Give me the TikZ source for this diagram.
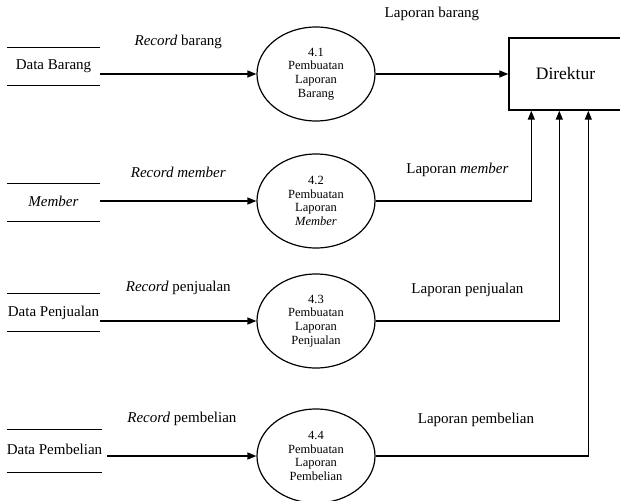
\documentclass[tikz,border=0pt]{standalone}
\usepackage{fontspec}
\setmainfont{Liberation Serif}
\usetikzlibrary{positioning,shapes.geometric,arrows.meta}

\begin{document}
\begin{tikzpicture}[x=1pt,y=-1pt,font=\fontsize{15}{17}\selectfont,
	store/.style={minimum width=93pt,minimum height=37pt,inner sep=0pt,text height=10pt,text depth=3pt},
	proc/.style={draw,ellipse,line width=1.2pt,minimum width=118pt,minimum height=94pt,inner sep=0pt,align=center,font=\fontsize{12.5}{13.7}\selectfont},
	flow/.style={line width=1.3pt,-{Triangle[length=9pt,width=7pt]}}]
\useasboundingbox (0,0) rectangle (620,500);
%data stores
\node[store] (s1) at (53.5,66.5) {Data Barang};
\node[store] (s2) at (53.5,202.5) {\textit{Member}};
\node[store] (s3) at (53.5,312.5) {Data Penjualan};
\node[store,minimum width=95pt,minimum height=42pt] (s4) at (54.5,451) {Data Pembelian};
\foreach \s in {s1,s2,s3,s4}{
	\draw[line width=1.2pt] (\s.north west) -- (\s.north east) (\s.south west) -- (\s.south east);
	}
%processes
\node[proc] (p1) at (316,74) {4.1\\Pembuatan\\Laporan\\Barang};
\node[proc] (p2) at (316,201) {4.2\\Pembuatan\\Laporan\\\textit{Member}};
\node[proc] (p3) at (316,321) {4.3\\Pembuatan\\Laporan\\Penjualan};
\node[proc] (p4) at (316,456) {4.4\\Pembuatan\\Laporan\\Pembelian};
%direktur
\node[draw,line width=1.4pt,minimum width=113pt,minimum height=72pt,font=\fontsize{17.5}{20}\selectfont] (dir) at (565.5,74) {Direktur};
%flows in
\draw[flow] (s1.east |- p1) -- node[above=21pt]{\textit{Record} barang} (p1);
\draw[flow] (s2.east |- p2) -- node[above=19pt]{\textit{Record member}} (p2);
\draw[flow] (s3.east |- p3) -- node[above=22pt]{\textit{Record} penjualan} (p3);
\draw[flow] ([xshift=5pt]s4.east |- p4) -- node[above=26pt]{\textit{Record} pembelian} (p4);
%flows out
\draw[flow] (p1) -- node[above=49pt,xshift=-10pt]{Laporan barang} (p1 -| dir.west);
\draw[flow] (p2) -| node[pos=.25,above=20pt,xshift=4pt]{Laporan \textit{member}} ([xshift=23pt]dir.south west);
\draw[flow] (p3) -| node[pos=.25,above=20pt]{Laporan penjualan} ([xshift=51pt]dir.south west);
\draw[flow] (p4) -| node[pos=.25,above=25pt,xshift=-6pt]{Laporan pembelian} ([xshift=80pt]dir.south west);
\end{tikzpicture}
\end{document}
